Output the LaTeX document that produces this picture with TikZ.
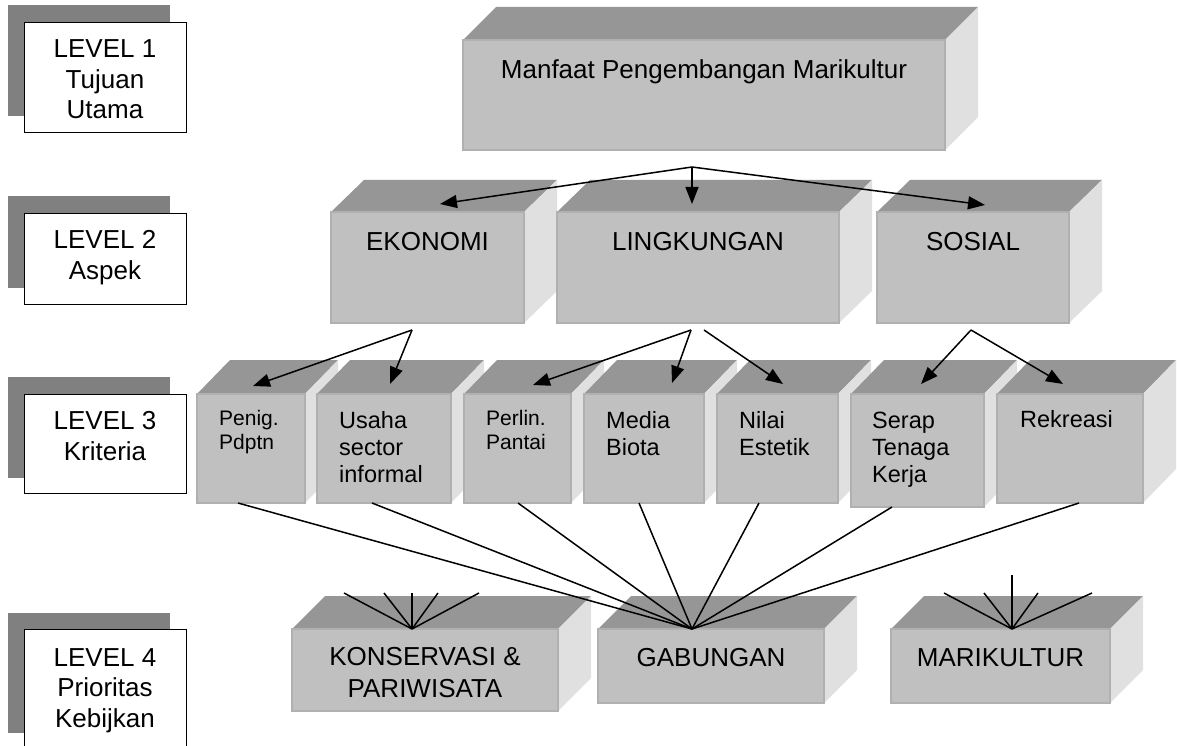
\documentclass[tikz,border=0pt]{standalone}
\usepackage{fontspec}
\setmainfont{Liberation Sans}
\usetikzlibrary{calc,arrows.meta}
\definecolor{frontgray}{RGB}{192,192,192}
\definecolor{topgray}{RGB}{150,150,150}
\definecolor{sidegray}{RGB}{224,224,224}
\definecolor{edgegray}{RGB}{176,176,176}
\definecolor{shadowgray}{RGB}{128,128,128}
\tikzset{
  frontface/.style={fill=frontgray, draw=edgegray, line width=1.2pt, inner sep=0pt, outer sep=0pt, anchor=north west},
  topface/.style={fill=topgray},
  sideface/.style={fill=sidegray},
  lvlbox/.style={fill=white, draw=black, line width=1.3pt, inner sep=0pt, anchor=north west},
  lvltxt/.style={font=\fontsize{26}{30.5}\selectfont, align=center, inner sep=0pt, anchor=base},
  bigtxt/.style={font=\fontsize{26}{32}\selectfont, align=center, inner sep=0pt, anchor=base},
  crit/.style={font=\fontsize{23.5}{27}\selectfont, align=left, inner sep=0pt, anchor=base west},
  critsmall/.style={font=\fontsize{21}{24}\selectfont, align=left, inner sep=0pt, anchor=base west},
  arr/.style={line width=1.5pt, -{Triangle[length=17pt,width=13pt]}},
  link/.style={line width=1.5pt},
}
% name, x, y, w, h, dx, dy
\newcommand\slab[7]{%
  \fill[topface] (#2,#3) -- ++(#6,-#7) -- ++(#4,0) -- ++(-#6,#7) -- cycle;
  \fill[sideface] (#2+#4,#3) -- ++(#6,-#7) -- ++(0,#5) -- ++(-#6,#7) -- cycle;
  \node[frontface, minimum width=#4pt, minimum height=#5pt] (#1) at (#2,#3) {};
}
\begin{document}
\begin{tikzpicture}[x=1pt,y=-1pt]
\clip (0,0) rectangle (1177,746);
\fill[white] (0,0) rectangle (1177,746);

% ---------- level labels (text anchored at the baseline of the last line) ----------
\fill[shadowgray] (8,5) rectangle (170,116);
\node[lvlbox, minimum width=162pt, minimum height=110pt] (L1) at (24,22) {};
\node[lvltxt] (L1t) at (105,119) {LEVEL 1\\Tujuan\\Utama};

\fill[shadowgray] (8,196) rectangle (170,288);
\node[lvlbox, minimum width=162pt, minimum height=91pt] (L2) at (24,213) {};
\node[lvltxt] (L2t) at (105,279) {LEVEL 2\\Aspek};

\fill[shadowgray] (8,377) rectangle (170,478);
\node[lvlbox, minimum width=162pt, minimum height=99pt] (L3) at (24,394) {};
\node[lvltxt] (L3t) at (105,460) {LEVEL 3\\Kriteria};

\fill[shadowgray] (8,613) rectangle (170,733);
\node[lvlbox, minimum width=162pt, minimum height=140pt] (L4) at (24,629) {};
\node[lvltxt] (L4t) at (105,727) {LEVEL 4\\Prioritas\\Kebijkan};

% ---------- level 1 ----------
\slab{goal}{463}{40}{482}{110}{33}{33}
\node[lvltxt] (goalt) at (704,79) {Manfaat Pengembangan Marikultur};

% ---------- level 2 ----------
\slab{eko}{331}{212}{193}{111}{33}{32}
\slab{ling}{557}{212}{282}{111}{33}{32}
\slab{sos}{877}{212}{192}{111}{33}{32}
\node[lvltxt] (ekot) at (427.5,250) {EKONOMI};
\node[lvltxt] (lingt) at (698,250) {LINGKUNGAN};
\node[lvltxt] (sost) at (973,250) {SOSIAL};

% ---------- level 3 ----------
\slab{penig}{197}{394}{108}{109}{33}{34}
\slab{usaha}{317}{394}{134}{109}{33}{34}
\slab{perlin}{464}{394}{107}{109}{33}{34}
\slab{media}{584}{394}{120}{109}{33}{34}
\slab{nilai}{717}{394}{121}{109}{33}{34}
\slab{serap}{851}{394}{133}{113}{33}{34}
\slab{rekr}{997}{394}{146}{109}{33}{34}
\node[critsmall] (penigt) at (219,449) {Penig.\\Pdptn};
\node[crit] (usahat) at (339,482) {Usaha\\sector\\informal};
\node[critsmall] (perlint) at (486,449) {Perlin.\\Pantai};
\node[crit] (mediat) at (606,455) {Media\\Biota};
\node[crit] (nilait) at (739,455) {Nilai\\Estetik};
\node[crit] (serapt) at (872,482) {Serap\\Tenaga\\Kerja};
\node[crit] (rekrt) at (1020,427) {Rekreasi};

% ---------- level 4 ----------
\slab{kons}{292}{629}{266}{82}{33}{33}
\slab{gab}{598}{629}{226}{74}{33}{33}
\slab{mari}{891}{629}{219}{74}{33}{33}
\node[bigtxt] (konst) at (425,697) {KONSERVASI \&\\PARIWISATA};
\node[bigtxt] (gabt) at (711,666) {GABUNGAN};
\node[bigtxt] (marit) at (1000.5,666) {MARIKULTUR};

% ---------- caption (cut off at the bottom edge, as in the source) ----------
\node[lvltxt, anchor=base west] (cap) at (566,765) {Gambar 2. Hirarki Analisis Manfaat Pengembangan Marikultur};

% ---------- connectors level 1 -> 2 ----------
\coordinate (goalJ) at (692,167);
\coordinate (ekoT) at (440,204);
\coordinate (lingT) at (692,204);
\coordinate (sosT) at (985,205);
\draw[arr] (goalJ) -- (ekoT);
\draw[arr] (goalJ) -- (lingT);
\draw[arr] (goalJ) -- (sosT);

% ---------- connectors level 2 -> 3 ----------
\coordinate (ekoJ) at (412,330);
\coordinate (lingJ) at (691,330);
\coordinate (lingJb) at (704,330);
\coordinate (sosJ) at (971,330);
\coordinate (penigT) at (253,386);
\coordinate (usahaT) at (390,384);
\coordinate (perlinT) at (533,385);
\coordinate (mediaT) at (672,383);
\coordinate (nilaiT) at (783,384);
\coordinate (serapT) at (921,384);
\coordinate (rekrT) at (1063,384);
\draw[arr] (ekoJ) -- (penigT);
\draw[arr] (ekoJ) -- (usahaT);
\draw[arr] (lingJ) -- (perlinT);
\draw[arr] (lingJ) -- (mediaT);
\draw[arr] (lingJb) -- (nilaiT);
\draw[arr] (sosJ) -- (serapT);
\draw[arr] (sosJ) -- (rekrT);

% ---------- connectors level 3 -> 4 (GABUNGAN) ----------
\coordinate (gabJ) at (692,629);
\draw[link] ($(penig.south west)+(41,0)$) -- (gabJ);
\draw[link] ($(usaha.south west)+(55,0)$) -- (gabJ);
\draw[link] ($(perlin.south west)+(54,0)$) -- (gabJ);
\draw[link] ($(media.south west)+(55,0)$) -- (gabJ);
\draw[link] ($(nilai.south west)+(42,0)$) -- (gabJ);
\draw[link] ($(serap.south west)+(41,0)$) -- (gabJ);
\draw[link] ($(rekr.south west)+(82,0)$) -- (gabJ);

% ---------- star lines on KONSERVASI and MARIKULTUR ----------
\coordinate (konsJ) at (412,629);
\foreach \i/\x/\y in {1/344/593, 2/384/593, 3/412/593, 4/438/593, 5/479/593}{
  \coordinate (konsS\i) at (\x,\y);
  \draw[link] (konsJ) -- (konsS\i);
}
\coordinate (mariJ) at (1012,629);
\foreach \i/\x/\y in {1/944/593, 2/984/593, 3/1012/575, 4/1038/593, 5/1092/593}{
  \coordinate (mariS\i) at (\x,\y);
  \draw[link] (mariJ) -- (mariS\i);
}
\end{tikzpicture}
\end{document}
